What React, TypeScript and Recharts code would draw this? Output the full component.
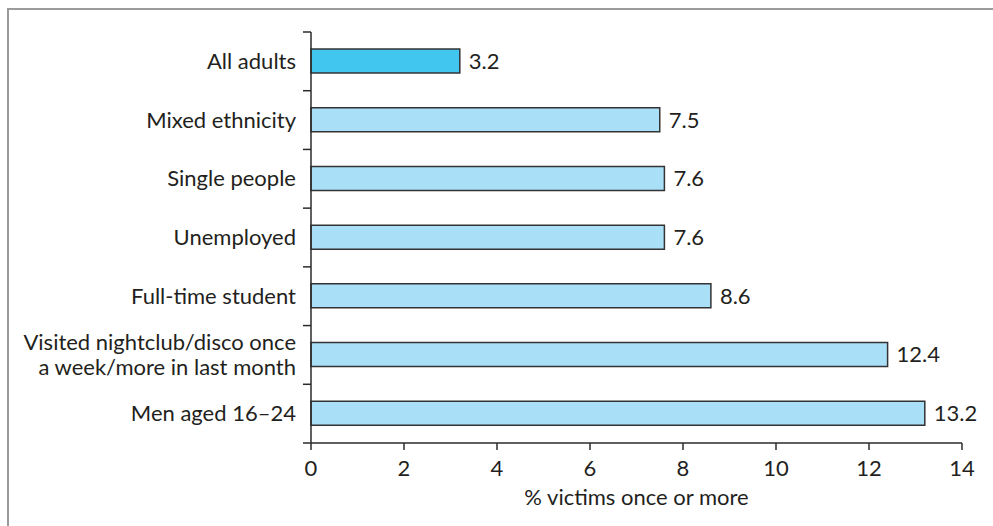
import { Bar, BarChart, Cell, LabelList, XAxis, YAxis } from "recharts";

// Victimisation rates for selected groups (% victims once or more)
const categories = [
  "All adults",
  "Mixed ethnicity",
  "Single people",
  "Unemployed",
  "Full-time student",
  "Visited nightclub/disco once\na week/more in last month",
  "Men aged 16–24",
];
const values = [3.2, 7.5, 7.6, 7.6, 8.6, 12.4, 13.2];
const highlighted = [true, false, false, false, false, false, false];
const xTicks = [0, 2, 4, 6, 8, 10, 12, 14];
const xTitle = "% victims once or more";

const data = categories.map((c, i) => ({
  group: c,
  value: values[i],
  highlight: highlighted[i],
}));

const W = 993;
const H = 526;
const MARGIN = { top: 32, right: 31, bottom: 0, left: 0 };
const Y_AXIS_W = 311;
const X_AXIS_H = 83;
const PLOT_H = H - MARGIN.top - X_AXIS_H;
const BAND = PLOT_H / categories.length;
const TICK_GAP = 15;
const FONT = 22;
const LINE_H = 25;
const INK = "#231f20";
const AXIS = "#2b2b2b";

function GroupTick(props: any) {
  const { x, y, payload, index } = props;
  const lines = String(payload.value).split("\n");
  const axisX = x + TICK_GAP;
  const half = BAND / 2;
  const firstDy = -((lines.length - 1) * LINE_H) / 2 + 7.5;
  return (
    <g>
      <line x1={axisX - 8} x2={axisX} y1={y - half} y2={y - half} stroke={AXIS} strokeWidth={1.5} />
      {index === categories.length - 1 && (
        <line x1={axisX - 8} x2={axisX} y1={y + half} y2={y + half} stroke={AXIS} strokeWidth={1.5} />
      )}
      <text x={x} y={y} textAnchor="end" fill={INK} fontSize={FONT}>
        {lines.map((l, i) => (
          <tspan key={i} x={x} dy={i === 0 ? firstDy : LINE_H}>
            {l}
          </tspan>
        ))}
      </text>
    </g>
  );
}

export default function App() {
  return (
    <div
      style={{
        position: "absolute",
        left: 0,
        top: 0,
        width: W,
        height: H,
        overflow: "hidden",
        background: "#fff",
        fontFamily: "Lato, 'Open Sans', sans-serif",
      }}
    >
      <div
        style={{
          position: "absolute",
          left: 7,
          top: 8,
          width: 1200,
          height: 800,
          borderTop: "2px solid #9b9b9b",
          borderLeft: "2px solid #9b9b9b",
        }}
      />
      <div style={{ position: "absolute", left: 0, top: 0 }}>
        <BarChart width={W} height={H} data={data} layout="vertical" margin={MARGIN}>
          <XAxis
            type="number"
            domain={[0, 14]}
            ticks={xTicks}
            interval={0}
            height={X_AXIS_H}
            tickSize={7}
            tickMargin={10}
            axisLine={{ stroke: AXIS, strokeWidth: 1.5 }}
            tickLine={{ stroke: AXIS, strokeWidth: 1.5 }}
            tick={{ fill: INK, fontSize: FONT }}
            label={{
              value: xTitle,
              position: "insideBottom",
              offset: 21,
              fill: INK,
              fontSize: FONT,
            }}
          />
          <YAxis
            type="category"
            dataKey="group"
            width={Y_AXIS_W}
            interval={0}
            tickSize={0}
            tickMargin={TICK_GAP}
            tickLine={false}
            axisLine={{ stroke: AXIS, strokeWidth: 1.5 }}
            tick={<GroupTick />}
          />
          <Bar
            dataKey="value"
            barSize={24}
            stroke="#333"
            strokeWidth={1.5}
            isAnimationActive={false}
          >
            {data.map((d, i) => (
              <Cell key={i} fill={d.highlight ? "#41c6f0" : "#aadff8"} />
            ))}
            <LabelList
              dataKey="value"
              position="right"
              offset={9}
              fill={INK}
              fontSize={FONT}
              formatter={(v: any) => Number(v).toFixed(1)}
            />
          </Bar>
        </BarChart>
      </div>
    </div>
  );
}
